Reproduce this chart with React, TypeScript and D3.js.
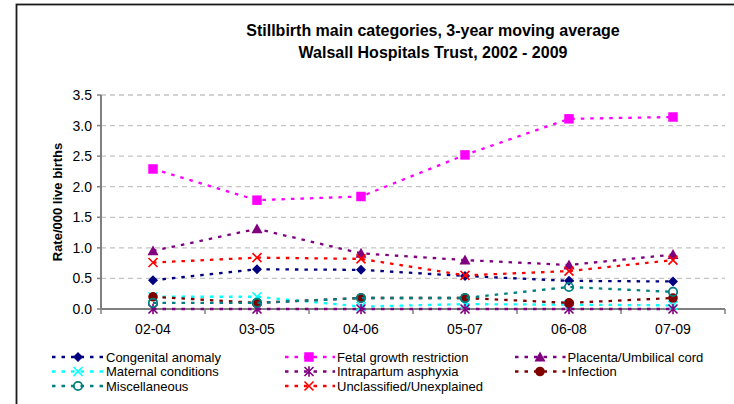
import React from "react";
import * as d3 from "d3";

const categories = ["02-04", "03-05", "04-06", "05-07", "06-08", "07-09"];
const yTicks = [0, 0.5, 1.0, 1.5, 2.0, 2.5, 3.0, 3.5];

const congenital = [0.47, 0.65, 0.64, 0.54, 0.46, 0.45];
const fetal = [2.29, 1.78, 1.84, 2.52, 3.11, 3.14];
const placenta = [0.95, 1.31, 0.91, 0.80, 0.72, 0.89];
const maternal = [0.20, 0.20, 0.04, 0.08, 0.07, 0.06];
const intrapartum = [0, 0, 0, 0, 0, 0];
const infection = [0.20, 0.10, 0.18, 0.18, 0.10, 0.18];
const misc = [0.10, 0.10, 0.18, 0.18, 0.36, 0.28];
const unclassified = [0.76, 0.84, 0.82, 0.55, 0.62, 0.80];

const seriesNames = [
  "Congenital anomaly",
  "Fetal growth restriction",
  "Placenta/Umbilical cord",
  "Maternal conditions",
  "Intrapartum asphyxia",
  "Infection",
  "Miscellaneous",
  "Unclassified/Unexplained",
];
const seriesValues = [congenital, fetal, placenta, maternal, intrapartum, infection, misc, unclassified];
const seriesColors = ["#000080", "#FF00FF", "#800080", "#00FFFF", "#800080", "#800000", "#008080", "#FF0000"];
const seriesMarkers = ["diamond", "square", "triangle", "x", "asterisk", "circle", "ring", "x"];

const W = 734;
const H = 404;
const plotLeft = 101;
const plotRight = 725;
const plotTop = 95;
const plotBottom = 309;
const FONT = "'Liberation Sans', Arial, sans-serif";

function Marker({ kind, x, y, color }: { kind: string; x: number; y: number; color: string }) {
  switch (kind) {
    case "diamond": {
      const r = 5;
      return <path d={`M${x},${y - r}L${x + r},${y}L${x},${y + r}L${x - r},${y}Z`} fill={color} />;
    }
    case "square": {
      const s = 9.5;
      return <rect x={x - s / 2} y={y - s / 2} width={s} height={s} fill={color} />;
    }
    case "triangle": {
      const r = 5.5;
      return <path d={`M${x},${y - r}L${x + r},${y + r * 0.8}L${x - r},${y + r * 0.8}Z`} fill={color} />;
    }
    case "x": {
      const r = 4.5;
      return (
        <path
          d={`M${x - r},${y - r}L${x + r},${y + r}M${x - r},${y + r}L${x + r},${y - r}`}
          stroke={color}
          strokeWidth={1.6}
          fill="none"
        />
      );
    }
    case "asterisk": {
      const r = 4.5;
      return (
        <path
          d={`M${x - r},${y - r}L${x + r},${y + r}M${x - r},${y + r}L${x + r},${y - r}M${x},${y - r - 0.8}L${x},${y + r + 0.8}`}
          stroke={color}
          strokeWidth={1.6}
          fill="none"
        />
      );
    }
    case "circle":
      return <circle cx={x} cy={y} r={4.8} fill={color} />;
    case "ring":
      return <circle cx={x} cy={y} r={4.2} fill="none" stroke={color} strokeWidth={1.8} />;
    default:
      return null;
  }
}

export default function App() {
  const x = d3.scaleBand<string>().domain(categories).range([plotLeft, plotRight]).padding(0);
  const y = d3.scaleLinear().domain([0, 3.5]).range([plotBottom, plotTop]);
  const cx = (c: string) => (x(c) as number) + x.bandwidth() / 2;

  const line = d3
    .line<number>()
    .x((_, i) => cx(categories[i]))
    .y((d) => y(d));

  const boundaries = categories.map((c) => (x(c) as number) + x.bandwidth());
  boundaries.unshift(plotLeft);

  const legendCols = [
    { lineStart: 52, marker: 78, text: 106 },
    { lineStart: 285, marker: 309, text: 337 },
    { lineStart: 515, marker: 540, text: 567.5 },
  ];
  const legendRows = [357, 371.5, 386];

  return (
    <svg
      width={W}
      height={H}
      style={{ position: "absolute", left: 0, top: 0, background: "#fff" }}
      fontFamily={FONT}
    >
      <rect x={0} y={0} width={W} height={H} fill="#fff" />
      <rect x={16.5} y={4.5} width={W + 20} height={H + 20} fill="none" stroke="#1a1a1a" strokeWidth={1.8} />

      <text x={433} y={36} textAnchor="middle" fontSize={16} fontWeight="bold" fill="#000">
        Stillbirth main categories, 3-year moving average
      </text>
      <text x={433} y={57.5} textAnchor="middle" fontSize={16} fontWeight="bold" fill="#000">
        Walsall Hospitals Trust, 2002 - 2009
      </text>

      {yTicks.map((t) =>
        t === 0 ? null : (
          <line
            key={"g" + t}
            x1={plotLeft}
            x2={plotRight}
            y1={y(t)}
            y2={y(t)}
            stroke="#c4c4c4"
            strokeWidth={1.3}
            strokeDasharray="5,4"
          />
        )
      )}

      {yTicks.map((t) => (
        <g key={"yt" + t}>
          <line x1={plotLeft - 4} x2={plotLeft} y1={y(t)} y2={y(t)} stroke="#808080" strokeWidth={1.5} />
          <text x={92} y={y(t) + 5} textAnchor="end" fontSize={14} fill="#000">
            {t.toFixed(1)}
          </text>
        </g>
      ))}

      <line x1={plotLeft} x2={plotLeft} y1={plotTop} y2={plotBottom} stroke="#808080" strokeWidth={2} />
      <line x1={plotLeft} x2={plotRight} y1={plotBottom} y2={plotBottom} stroke="#808080" strokeWidth={2} />
      {boundaries.map((b, i) => (
        <line key={"xt" + i} x1={b} x2={b} y1={plotBottom} y2={plotBottom + 5} stroke="#808080" strokeWidth={1.5} />
      ))}
      {categories.map((c) => (
        <text key={"xl" + c} x={cx(c)} y={334} textAnchor="middle" fontSize={14} fill="#000">
          {c}
        </text>
      ))}

      <text
        transform={`translate(${62},${202}) rotate(-90)`}
        textAnchor="middle"
        fontSize={13}
        fontWeight="bold"
        fill="#000"
      >
        Rate/000 live births
      </text>

      {seriesValues.map((vals, si) => (
        <g key={"s" + si}>
          <path
            d={line(vals) as string}
            fill="none"
            stroke={seriesColors[si]}
            strokeWidth={2.3}
            strokeDasharray="3.5,6"
          />
          {vals.map((v, i) => (
            <Marker key={i} kind={seriesMarkers[si]} x={cx(categories[i])} y={y(v)} color={seriesColors[si]} />
          ))}
        </g>
      ))}

      {seriesNames.map((name, si) => {
        const col = legendCols[si % 3];
        const ry = legendRows[Math.floor(si / 3)];
        return (
          <g key={"lg" + si}>
            <line
              x1={col.lineStart}
              x2={col.text - 2}
              y1={ry}
              y2={ry}
              stroke={seriesColors[si]}
              strokeWidth={2.3}
              strokeDasharray="3.5,6"
            />
            <Marker kind={seriesMarkers[si]} x={col.marker} y={ry} color={seriesColors[si]} />
            <text x={col.text} y={ry + 4.5} fontSize={13} fill="#000">
              {name}
            </text>
          </g>
        );
      })}
    </svg>
  );
}
